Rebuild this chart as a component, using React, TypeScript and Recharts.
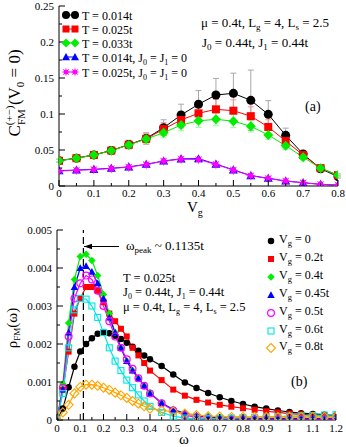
import React from 'react';
import { LineChart, Line, XAxis, YAxis, ErrorBar, ReferenceLine } from 'recharts';

const FONT = '"Liberation Serif", "Times New Roman", serif';

// ---------- Panel (a) data ----------
const vgValues = [0, 0.05, 0.1, 0.15, 0.2, 0.25, 0.3, 0.35, 0.4, 0.45, 0.5, 0.55, 0.6, 0.65, 0.7, 0.75, 0.8];
const cT014 = [0.0352, 0.0387, 0.0432, 0.0493, 0.0575, 0.066, 0.081, 0.0986, 0.1135, 0.1264, 0.1287, 0.119, 0.0995, 0.0704, 0.0444, 0.024, 0.013];
const cT014Err = [0.002, 0.002, 0.003, 0.004, 0.006, 0.008, 0.011, 0.015, 0.019, 0.023, 0.028, 0.042, 0.019, 0.01, 0.004, 0.003, 0.002];
const cT025 = [0.035, 0.0386, 0.0431, 0.0492, 0.0573, 0.0655, 0.079, 0.0917, 0.101, 0.1065, 0.1046, 0.097, 0.082, 0.0625, 0.043, 0.0248, 0.015];
const cT025Err = [0.002, 0.002, 0.003, 0.004, 0.005, 0.007, 0.009, 0.011, 0.013, 0.014, 0.015, 0.013, 0.01, 0.007, 0.004, 0.003, 0.002];
const cT033 = [0.0351, 0.0385, 0.043, 0.049, 0.057, 0.0653, 0.074, 0.0847, 0.0905, 0.0926, 0.09, 0.083, 0.0708, 0.056, 0.04, 0.0246, 0.0153];
const cT033Err = [0.002, 0.002, 0.002, 0.003, 0.004, 0.006, 0.007, 0.008, 0.009, 0.009, 0.009, 0.008, 0.006, 0.005, 0.003, 0.002, 0.002];
const cT014J0 = [0.0213, 0.0222, 0.0232, 0.0247, 0.0266, 0.0302, 0.0348, 0.0378, 0.038, 0.0305, 0.0224, 0.0145, 0.0108, 0.007, 0.0046, 0.0024, 0.0013];
const cT025J0 = [0.0208, 0.0218, 0.0228, 0.0243, 0.0262, 0.0298, 0.0345, 0.0373, 0.0368, 0.03, 0.022, 0.0142, 0.0105, 0.0068, 0.0045, 0.0022, 0.0012];

const topXTicks = [0, 0.05, 0.1, 0.15, 0.2, 0.25, 0.3, 0.35, 0.4, 0.45, 0.5, 0.55, 0.6, 0.65, 0.7, 0.75, 0.8];
const topXMajor = [0, 0.1, 0.2, 0.3, 0.4, 0.5, 0.6, 0.7, 0.8];
const topYTicks = [0, 0.025, 0.05, 0.075, 0.1, 0.125, 0.15, 0.175, 0.2, 0.225, 0.25];
const topYMajor = [0, 0.05, 0.1, 0.15, 0.2, 0.25];

// ---------- Panel (b) data ----------
const omegaValues = [0, 0.025, 0.05, 0.075, 0.1, 0.125, 0.15, 0.175, 0.2, 0.225, 0.25, 0.275, 0.3, 0.325, 0.35, 0.375, 0.4,
  0.45, 0.5, 0.55, 0.6, 0.65, 0.7, 0.75, 0.8, 0.85, 0.9, 0.95, 1.0, 1.05, 1.1, 1.15, 1.2];
const rhoVg0 = [0, 0.0003, 0.00086, 0.0014, 0.0018, 0.002, 0.00215, 0.00227, 0.0023, 0.00228, 0.00222, 0.00213, 0.00203, 0.00193, 0.00182, 0.0017, 0.0016,
  0.00142, 0.0012, 0.00099, 0.00084, 0.00071, 0.0006, 0.0005, 0.00042, 0.00035, 0.0003, 0.00025, 0.00021, 0.00018, 0.00016, 0.00014, 0.00012];
const rhoVg02 = [0, 0.0008, 0.0018, 0.0028, 0.0032, 0.0035, 0.0035, 0.0034, 0.0031, 0.0028, 0.0026, 0.0024, 0.0022, 0.0019, 0.0017, 0.0015, 0.0013,
  0.00105, 0.0008, 0.00064, 0.00053, 0.00046, 0.0004, 0.00035, 0.00031, 0.00027, 0.00023, 0.0002, 0.00017, 0.00015, 0.00013, 0.00011, 0.0001];
const rhoVg04 = [0, 0.00095, 0.00255, 0.0037, 0.0043, 0.00436, 0.0042, 0.0038, 0.0033, 0.0028, 0.0023, 0.0019, 0.00155, 0.0013, 0.0011, 0.0009, 0.00072,
  0.00045, 0.00028, 0.00018, 0.00012, 0.00009, 0.00007, 0.00006, 0.00005, 0.00005, 0.00005, 0.00005, 0.00005, 0.00005, 0.00005, 0.00005, 0.00005];
const rhoVg045 = [0, 0.0008, 0.0023, 0.0035, 0.004, 0.00405, 0.0039, 0.0036, 0.0032, 0.0027, 0.0023, 0.0019, 0.00155, 0.0013, 0.0011, 0.0009, 0.0007,
  0.00045, 0.00027, 0.00017, 0.00011, 0.00008, 0.00006, 0.00005, 0.00004, 0.00004, 0.00004, 0.00004, 0.00004, 0.00004, 0.00004, 0.00004, 0.00004];
const rhoVg05 = [0, 0.00085, 0.0022, 0.0032, 0.0036, 0.0038, 0.0037, 0.0034, 0.003, 0.0026, 0.0022, 0.0019, 0.0016, 0.00135, 0.0011, 0.0009, 0.0007,
  0.00044, 0.00025, 0.00013, 0.00007, 0.00004, 0.00003, 0.00002, 0.00002, 0.00002, 0.00002, 0.00002, 0.00002, 0.00002, 0.00002, 0.00002, 0.00002];
const rhoVg06 = [0, 0.0007, 0.0019, 0.0029, 0.0032, 0.00318, 0.003, 0.0027, 0.0023, 0.0019, 0.00155, 0.0013, 0.00105, 0.00085, 0.00066, 0.0005, 0.00036,
  0.0002, 0.0001, 0.00005, 0.00003, 0.00003, 0.00004, 0.00005, 0.00006, 0.00007, 0.00008, 0.00009, 0.0001, 0.00011, 0.00012, 0.00013, 0.00014];
const rhoVg08 = [0, 0.0002, 0.0004, 0.0007, 0.00087, 0.00093, 0.00093, 0.0009, 0.00085, 0.00079, 0.00072, 0.00065, 0.00058, 0.0005, 0.00043, 0.00036, 0.0003,
  0.00025, 0.00022, 0.00017, 0.00013, 0.0001, 0.00009, 0.00008, 0.00008, 0.00008, 0.00008, 0.00008, 0.00008, 0.00008, 0.00008, 0.00008, 0.00008];

const omegaPeak = 0.1135;

const botXTicks = [0, 0.05, 0.1, 0.15, 0.2, 0.25, 0.3, 0.35, 0.4, 0.45, 0.5, 0.55, 0.6, 0.65, 0.7, 0.75, 0.8, 0.85, 0.9, 0.95, 1, 1.05, 1.1, 1.15, 1.2];
const botXMajor = [0, 0.1, 0.2, 0.3, 0.4, 0.5, 0.6, 0.7, 0.8, 0.9, 1, 1.1, 1.2];
const botYTicks = [0, 0.0005, 0.001, 0.0015, 0.002, 0.0025, 0.003, 0.0035, 0.004, 0.0045, 0.005];
const botYMajor = [0, 0.001, 0.002, 0.003, 0.004, 0.005];

const topTable = vgValues.map((v, i) => ({
  v,
  t014: cT014[i], t014Err: cT014Err[i],
  t025: cT025[i], t025Err: cT025Err[i],
  t033: cT033[i], t033Err: cT033Err[i],
  t014j: cT014J0[i],
  t025j: cT025J0[i],
}));

const botTable = omegaValues.map((w, i) => ({
  w,
  g0: rhoVg0[i], g02: rhoVg02[i], g04: rhoVg04[i], g045: rhoVg045[i],
  g05: rhoVg05[i], g06: rhoVg06[i], g08: rhoVg08[i],
}));

// ---------- Markers ----------
type Shape = 'circle' | 'square' | 'diamond' | 'triangle' | 'star' | 'ocircle' | 'osquare' | 'odiamond';

function Marker({ shape, cx, cy, size, color }: { shape: Shape; cx: number; cy: number; size: number; color: string }) {
  const h = size / 2;
  if (cx == null || cy == null || isNaN(cx) || isNaN(cy)) return null;
  switch (shape) {
    case 'circle':
      return <circle cx={cx} cy={cy} r={h} fill={color} />;
    case 'square':
      return <rect x={cx - h} y={cy - h} width={size} height={size} fill={color} />;
    case 'diamond':
      return <polygon points={`${cx},${cy - h} ${cx + h},${cy} ${cx},${cy + h} ${cx - h},${cy}`} fill={color} />;
    case 'triangle':
      return <polygon points={`${cx},${cy - h} ${cx + h},${cy + h * 0.8} ${cx - h},${cy + h * 0.8}`} fill={color} />;
    case 'star': {
      const pts: string[] = [];
      for (let k = 0; k < 16; k++) {
        const r = k % 2 === 0 ? h : h * 0.45;
        const a = (Math.PI * k) / 8 - Math.PI / 2;
        pts.push(`${cx + r * Math.cos(a)},${cy + r * Math.sin(a)}`);
      }
      return <polygon points={pts.join(' ')} fill={color} />;
    }
    case 'ocircle':
      return <circle cx={cx} cy={cy} r={h - 0.6} fill="none" stroke={color} strokeWidth={1.2} />;
    case 'osquare':
      return <rect x={cx - h + 0.5} y={cy - h + 0.5} width={size - 1} height={size - 1} fill="none" stroke={color} strokeWidth={1.1} />;
    case 'odiamond':
      return <polygon points={`${cx},${cy - h} ${cx + h},${cy} ${cx},${cy + h} ${cx - h},${cy}`} fill="none" stroke={color} strokeWidth={1.1} />;
  }
  return null;
}

const dotFor = (shape: Shape, color: string, size: number) => (p: any) => (
  <Marker key={`d${p.index}`} shape={shape} color={color} size={size} cx={p.cx} cy={p.cy} />
);

// ---------- Ticks ----------
const isMajor = (v: number, majors: number[]) => majors.some((m) => Math.abs(m - v) < 1e-9);
const tickStyle = { fontFamily: FONT, fontSize: 11, fill: '#000' };

const BottomTick = (majors: number[], labelDy: number) => (p: any) => {
  const { x, y, payload } = p;
  const major = isMajor(payload.value, majors);
  return (
    <g>
      <line x1={x} x2={x} y1={y} y2={y - (major ? 6 : 3)} stroke="#000" strokeWidth={1} />
      {major && (
        <text x={x} y={y + labelDy} textAnchor="middle" {...tickStyle}>{String(payload.value)}</text>
      )}
    </g>
  );
};
const TopTick = (majors: number[]) => (p: any) => {
  const { x, y, payload } = p;
  const major = isMajor(payload.value, majors);
  return <line x1={x} x2={x} y1={y} y2={y + (major ? 6 : 3)} stroke="#000" strokeWidth={1} />;
};
const LeftTick = (majors: number[]) => (p: any) => {
  const { x, y, payload } = p;
  const major = isMajor(payload.value, majors);
  return (
    <g>
      <line x1={x} x2={x + (major ? 6 : 3)} y1={y} y2={y} stroke="#000" strokeWidth={1} />
      {major && (
        <text x={x - 5} y={y + 4} textAnchor="end" {...tickStyle}>{String(payload.value)}</text>
      )}
    </g>
  );
};
const RightTick = (majors: number[]) => (p: any) => {
  const { x, y, payload } = p;
  const major = isMajor(payload.value, majors);
  return <line x1={x} x2={x - (major ? 6 : 3)} y1={y} y2={y} stroke="#000" strokeWidth={1} />;
};

const axisCommon = { tickSize: 0, tickMargin: 0, interval: 0 as const, allowDataOverflow: true, stroke: '#000' };

// ---------- Series definitions ----------
const topSeries = [
  { key: 't014', err: 't014Err', color: '#000000', errColor: '#a8a8a8', shape: 'circle' as Shape, size: 9 },
  { key: 't025', err: 't025Err', color: '#ff0000', errColor: '#ff9090', shape: 'square' as Shape, size: 8 },
  { key: 't033', err: 't033Err', color: '#00ee00', errColor: '#90ff90', shape: 'diamond' as Shape, size: 10 },
  { key: 't014j', err: '', color: '#0000ff', errColor: '', shape: 'triangle' as Shape, size: 9 },
  { key: 't025j', err: '', color: '#ff00ff', errColor: '', shape: 'star' as Shape, size: 10 },
];

const botSeries = [
  { key: 'g0', color: '#000000', shape: 'circle' as Shape, size: 6.5 },
  { key: 'g02', color: '#ff0000', shape: 'square' as Shape, size: 6 },
  { key: 'g04', color: '#00ee00', shape: 'diamond' as Shape, size: 7.5 },
  { key: 'g045', color: '#0000ff', shape: 'triangle' as Shape, size: 7.5 },
  { key: 'g05', color: '#ff00ff', shape: 'ocircle' as Shape, size: 8 },
  { key: 'g06', color: '#00e5e5', shape: 'osquare' as Shape, size: 7 },
  { key: 'g08', color: '#ffa500', shape: 'odiamond' as Shape, size: 9 },
];

const topLegend = ['T = 0.014t', 'T = 0.025t', 'T = 0.033t', 'T = 0.014t, J', 'T = 0.025t, J'];
const botLegend = ['0', '0.2t', '0.4t', '0.45t', '0.5t', '0.6t', '0.8t'];

export default function App() {
  const topLegendY = [15, 29, 43, 57, 72];
  const botLegendY = [241, 259, 277, 295, 313, 331, 348];
  return (
    <div style={{ position: 'absolute', left: 0, top: 0, width: 346, height: 447, background: '#fff' }}>
      <div style={{ position: 'absolute', left: 0, top: 0 }}>
        <LineChart width={346} height={215} data={topTable} margin={{ top: 6, right: 8, bottom: 0, left: 0 }}>
          <XAxis xAxisId="b" dataKey="v" type="number" domain={[0, 0.8]} ticks={topXTicks} height={29}
            tick={BottomTick(topXMajor, 11)} {...axisCommon} />
          <XAxis xAxisId="t" orientation="top" dataKey="v" type="number" domain={[0, 0.8]} ticks={topXTicks} height={0}
            tick={TopTick(topXMajor)} {...axisCommon} />
          <YAxis yAxisId="l" type="number" domain={[0, 0.25]} ticks={topYTicks} width={59}
            tick={LeftTick(topYMajor)} {...axisCommon} />
          <YAxis yAxisId="r" orientation="right" type="number" domain={[0, 0.25]} ticks={topYTicks} width={0}
            tick={RightTick(topYMajor)} {...axisCommon} />
          {topSeries.map((s) => (
            <Line key={s.key} xAxisId="b" yAxisId="l" dataKey={s.key} stroke={s.color} strokeWidth={1}
              dot={dotFor(s.shape, s.color, s.size)} activeDot={false} isAnimationActive={false} type="linear">
              {s.err ? <ErrorBar dataKey={s.err} direction="y" width={3} stroke={s.errColor} strokeWidth={1} /> : null}
            </Line>
          ))}
        </LineChart>
      </div>
      <div style={{ position: 'absolute', left: 0, top: 215 }}>
        <LineChart width={346} height={232} data={botTable} margin={{ top: 15, right: 10, bottom: 0, left: 0 }}>
          <XAxis xAxisId="b" dataKey="w" type="number" domain={[0, 1.2]} ticks={botXTicks} height={27}
            tick={BottomTick(botXMajor, 12)} {...axisCommon} />
          <XAxis xAxisId="t" orientation="top" dataKey="w" type="number" domain={[0, 1.2]} ticks={botXTicks} height={0}
            tick={TopTick(botXMajor)} {...axisCommon} />
          <YAxis yAxisId="l" type="number" domain={[0, 0.005]} ticks={botYTicks} width={57}
            tick={LeftTick(botYMajor)} {...axisCommon} />
          <YAxis yAxisId="r" orientation="right" type="number" domain={[0, 0.005]} ticks={botYTicks} width={0}
            tick={RightTick(botYMajor)} {...axisCommon} />
          <ReferenceLine xAxisId="b" yAxisId="l" x={omegaPeak} stroke="#000" strokeWidth={1.2} strokeDasharray="7 4" />
          {botSeries.map((s) => (
            <Line key={s.key} xAxisId="b" yAxisId="l" dataKey={s.key} stroke={s.color} strokeWidth={1.2}
              dot={dotFor(s.shape, s.color, s.size)} activeDot={false} isAnimationActive={false} type="linear" />
          ))}
        </LineChart>
      </div>
      <svg width={346} height={447} style={{ position: 'absolute', left: 0, top: 0, pointerEvents: 'none' }} fontFamily={FONT}>
        {/* Panel (a) axis labels */}
        <text transform="translate(20,93) rotate(-90)" textAnchor="middle" fontSize={17}>
          C<tspan fontSize={11} dy={-7}>(+−)</tspan>
          <tspan fontSize={11} dx={-19.5} dy={12}>FM</tspan>
          <tspan fontSize={17} dx={4} dy={-5}>(V</tspan>
          <tspan fontSize={11} dy={4}>0</tspan>
          <tspan fontSize={17} dy={-4}> = 0)</tspan>
        </text>
        <text x={187} y={212} fontSize={15}>V<tspan fontSize={10} dy={4}>g</tspan></text>
        {/* Panel (a) legend */}
        {topSeries.map((s, i) => (
          <g key={s.key}>
            <line x1={66} x2={75} y1={topLegendY[i]} y2={topLegendY[i]} stroke={s.color} strokeWidth={1} />
            <Marker shape={s.shape} color={s.color} size={s.size - 1} cx={66} cy={topLegendY[i]} />
            <Marker shape={s.shape} color={s.color} size={s.size - 1} cx={75} cy={topLegendY[i]} />
            <text x={82} y={topLegendY[i] + 4.5} fontSize={12}>
              {topLegend[i]}
              {i >= 3 ? (
                <>
                  <tspan fontSize={8} dy={3}>0</tspan>
                  <tspan dy={-3}> = J</tspan>
                  <tspan fontSize={8} dy={3}>1</tspan>
                  <tspan dy={-3}> = 0</tspan>
                </>
              ) : null}
            </text>
          </g>
        ))}
        {/* Panel (a) annotations */}
        <text x={201} y={27} fontSize={13}>
          μ = 0.4t, L<tspan fontSize={9} dy={3}>g</tspan><tspan dy={-3}> = 4, L</tspan>
          <tspan fontSize={9} dy={3}>s</tspan><tspan dy={-3}> = 2.5</tspan>
        </text>
        <text x={202} y={47} fontSize={13}>
          J<tspan fontSize={9} dy={3}>0</tspan><tspan dy={-3}> = 0.44t, J</tspan>
          <tspan fontSize={9} dy={3}>1</tspan><tspan dy={-3}> = 0.44t</tspan>
        </text>
        <text x={305} y={111} fontSize={14}>(a)</text>

        {/* Panel (b) axis labels */}
        <text transform="translate(17,328) rotate(-90)" textAnchor="middle" fontSize={15}>
          ρ<tspan fontSize={9} dy={3}>FM</tspan><tspan dy={-3}>(ω)</tspan>
        </text>
        <text x={184} y={444} fontSize={15} textAnchor="middle">ω</text>
        {/* omega peak arrow */}
        <line x1={84} x2={119} y1={246.5} y2={246.5} stroke="#000" strokeWidth={1} />
        <polygon points="84,246.5 92,243.8 92,249.2" fill="#000" />
        <text x={126} y={250} fontSize={13}>
          ω<tspan fontSize={9} dy={3}>peak</tspan><tspan dy={-3}> ~ 0.1135t</tspan>
        </text>
        <text x={123} y={282} fontSize={12.5}>T = 0.025t</text>
        <text x={123} y={296} fontSize={12.5}>
          J<tspan fontSize={8} dy={2.5}>0</tspan><tspan dy={-2.5}> = 0.44t, J</tspan>
          <tspan fontSize={8} dy={2.5}>1</tspan><tspan dy={-2.5}> = 0.44t</tspan>
        </text>
        <text x={123} y={311} fontSize={12.5}>
          μ = 0.4t, L<tspan fontSize={8} dy={2.5}>g</tspan><tspan dy={-2.5}> = 4, L</tspan>
          <tspan fontSize={8} dy={2.5}>s</tspan><tspan dy={-2.5}> = 2.5</tspan>
        </text>
        <text x={291} y={386} fontSize={14}>(b)</text>
        {/* Panel (b) legend */}
        {botSeries.map((s, i) => (
          <g key={s.key}>
            <Marker shape={s.shape} color={s.color} size={s.size} cx={271} cy={botLegendY[i]} />
            <text x={279} y={botLegendY[i] + 2} fontSize={12}>
              V<tspan fontSize={8.5} dy={3}>g</tspan><tspan dy={-3}> = {botLegend[i]}</tspan>
            </text>
          </g>
        ))}
      </svg>
    </div>
  );
}
